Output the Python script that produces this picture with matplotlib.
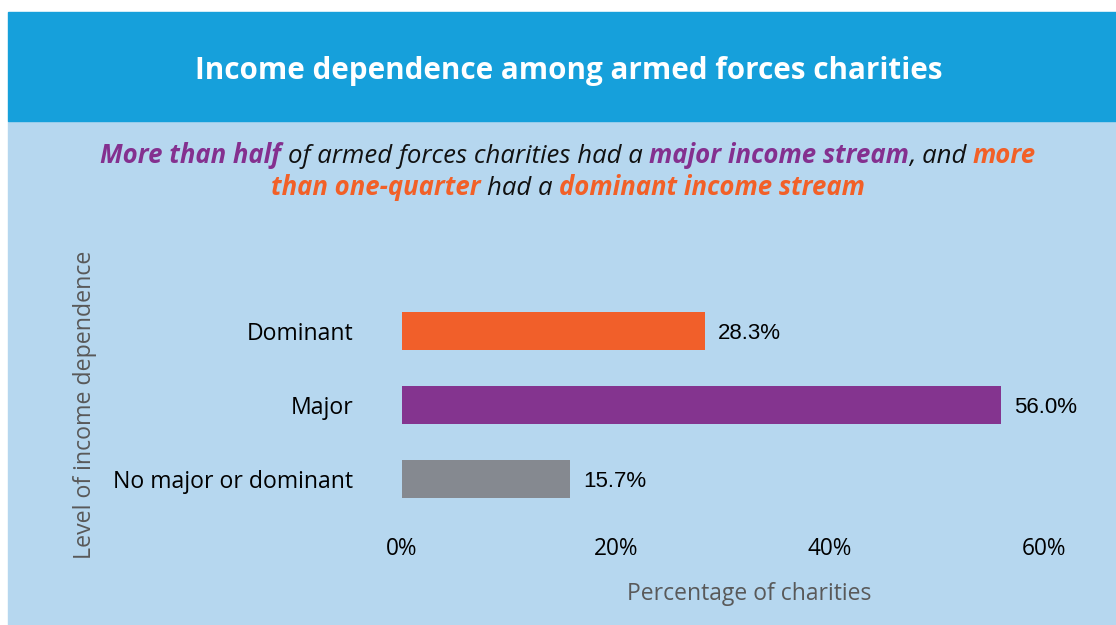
import matplotlib
matplotlib.use("Agg")
import matplotlib.pyplot as plt
from matplotlib.patches import Rectangle

# Data
categories = ["Dominant", "Major", "No major or dominant"]
shares = [28.3, 56.0, 15.7]
bar_colors = ["#F15F2A", "#84348F", "#858990"]
xticks = [0, 20, 40, 60]
xtick_labels = ["0%", "20%", "40%", "60%"]

title = "Income dependence among armed forces charities"
PURPLE = "#84308F"
ORANGE = "#F26027"
INK = "#111111"
subtitle_lines = [
    [("More than half", PURPLE, "bold"),
     (" of armed forces charities had a ", INK, "normal"),
     ("major income stream", PURPLE, "bold"),
     (", and ", INK, "normal"),
     ("more", ORANGE, "bold")],
    [("than one-quarter", ORANGE, "bold"),
     (" had a ", INK, "normal"),
     ("dominant income stream", ORANGE, "bold")],
]

W, H = 1116, 625
fig = plt.figure(figsize=(W / 100, H / 100), dpi=100)
fig.patch.set_facecolor("white")


def px_rect(x0, y0, x1, y1):
    """Pixel box (top-left origin) -> figure-fraction [left, bottom, width, height]."""
    return [x0 / W, 1 - y1 / H, (x1 - x0) / W, (y1 - y0) / H]


# Background panels
l, b, w, h = px_rect(8, 121, W, H)
fig.add_artist(Rectangle((l, b), w, h, transform=fig.transFigure,
                         color="#B6D7EF", zorder=0))
l, b, w, h = px_rect(8, 12, W, 121)
fig.add_artist(Rectangle((l, b), w, h, transform=fig.transFigure,
                         color="#16A0DB", zorder=0))

# Title
fig.text(568.5 / W, 1 - 79 / H, title, color="white", fontsize=21.3,
         fontweight="bold", family="Open Sans", ha="center", va="baseline")

# Subtitle with coloured runs
renderer = fig.canvas.get_renderer()
SUB_SIZE = 18.5
SUB_FONT = "Open Sans"


def text_width(s, weight):
    t = fig.text(0, 0, s, fontsize=SUB_SIZE, style="italic",
                 fontweight=weight, family=SUB_FONT)
    wd = t.get_window_extent(renderer).width
    t.remove()
    return wd


def run_width(s, weight):
    return text_width("|" + s + "|", weight) - text_width("||", weight)


space_w = {wt: run_width(" ", wt) for wt in ("normal", "bold")}

for line, y_px in zip(subtitle_lines, [163, 195]):
    widths = [run_width(s, wt) for s, _, wt in line]
    x = 568 - sum(widths) / 2
    for (s, col, wt), wd in zip(line, widths):
        lead = len(s) - len(s.lstrip(" "))
        fig.text((x + lead * space_w[wt]) / W, 1 - y_px / H, s.strip(" "),
                 color=col, fontsize=SUB_SIZE, style="italic", fontweight=wt,
                 family=SUB_FONT, ha="left", va="baseline")
        x += wd

# Bar chart
ax = fig.add_axes(px_rect(402, 294, 1044, 516))
ax.patch.set_alpha(0)
ypos = list(range(len(categories)))
ax.barh(ypos, shares, height=0.51, color=bar_colors)
ax.set_xlim(0, 60)
ax.set_ylim(len(categories) - 0.5, -0.5)
for s in ax.spines.values():
    s.set_visible(False)

ax.set_yticks(ypos, categories)
ax.set_xticks(xticks, xtick_labels)
ax.tick_params(axis="y", length=0, pad=35, labelsize=16.6, labelcolor="black")
ax.tick_params(axis="x", length=0, pad=15, labelsize=16.3, labelcolor="black")
for lab in ax.get_yticklabels() + ax.get_xticklabels():
    lab.set_family("Open Sans")

for yi, v in zip(ypos, shares):
    ax.annotate(f"{v:.1f}%", xy=(v, yi), xytext=(9.5, -1.5),
                textcoords="offset points", va="center", ha="left",
                fontsize=16, family="Liberation Sans", color="black")

# Axis titles
fig.text(85 / W, 1 - 405 / H, "Level of income dependence", rotation=90,
         ha="center", va="center", fontsize=16.7, color="#595959",
         family="Open Sans")
fig.text(749.5 / W, 1 - 594 / H, "Percentage of charities", ha="center",
         va="center", fontsize=16.5, color="#595959", family="Open Sans")

fig.savefig("out.png", dpi=100, facecolor=fig.get_facecolor())
